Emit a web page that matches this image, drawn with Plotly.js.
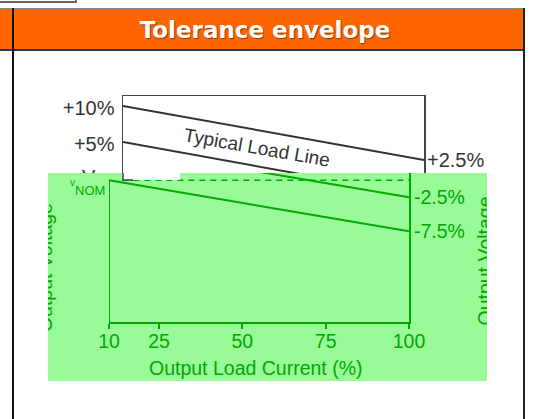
<!DOCTYPE html>
<html><head><meta charset="utf-8">
<script src="https://cdn.plot.ly/plotly-3.0.1.min.js"></script>
<style>
html,body{margin:0;padding:0;background:#fff;width:534px;height:419px;overflow:hidden;position:relative;}
#topbox{position:absolute;left:-2px;top:-10px;width:77px;height:11px;border-right:2px solid #666;border-bottom:2px solid #666;}
#hdr{position:absolute;left:0;top:8px;width:525px;height:43px;box-sizing:border-box;background:#FF6600;border-top:1px solid #8a8a8a;border-bottom:2px solid #333;}
#hdrtext{position:absolute;left:9px;width:512px;top:9px;height:43px;font:bold 23px "DejaVu Sans",Verdana,sans-serif;line-height:43px;text-align:center;color:#fff;text-shadow:1px 1px 1px rgba(0,0,0,0.45);white-space:nowrap;}
#vl{position:absolute;left:12px;top:8px;width:2px;height:411px;background:#111;}
#vr{position:absolute;left:523px;top:8px;width:2px;height:411px;background:#222;}
#white{position:absolute;left:0;top:0;width:534px;height:419px;}
#green{position:absolute;left:48px;top:173px;width:439px;height:208px;overflow:hidden;}
</style></head><body>
<div id="topbox"></div>
<div id="hdr"></div>
<div id="hdrtext">Tolerance envelope</div>
<div id="white"></div>
<div id="green"></div>
<div id="vl"></div>
<div id="vr"></div>
<script>
// ---- data ----
const loadPct = [10, 100];
const upperLimit = [10, 2.5];
const typicalLine = [5, -2.5];
const lowerLimit = [0, -7.5];
const vnomX = [14, 100];
const vnomLevel = [0, 0];
const leftTickVals = [10, 5];
const leftTickText = ['+10%', '+5%'];
const rightTickVals = [2.5];
const rightTickText = ['+2.5%'];
const greenRightVals = [-2.5, -7.5];
const greenRightText = ['-2.5%', '-7.5%'];
const xTickVals = [10, 25, 50, 75, 100];
const xTickText = ['10', '25', '50', '75', '100'];
const xTitle = 'Output Load Current (%)';
const yTitle = 'Output Voltage';
const lineLabel = 'Typical Load Line';
const vLetter = 'V';
const vSmall = 'v';
const vSub = 'NOM';

// ---- white chart ----
const DARK = '#333';
const W_FONT = '"Liberation Sans", Arial, sans-serif';
const wRange = [-20.03, 11.37];
function wLine(y, ax) {
  return {x: loadPct, y: y, yaxis: ax || 'y', mode: 'lines', line: {color: DARK, width: 2}, hoverinfo: 'skip', showlegend: false};
}
Plotly.newPlot('white', [wLine(upperLimit), wLine(typicalLine, 'y2'), wLine(lowerLimit)], {
  width: 534, height: 419, margin: {l: 123, r: 110, t: 96, b: 96, pad: 0},
  paper_bgcolor: 'rgba(0,0,0,0)', plot_bgcolor: '#fff', showlegend: false,
  xaxis: {range: [10, 100], showline: true, mirror: true, linecolor: '#444', linewidth: 1.5, showgrid: false, zeroline: false, showticklabels: false, ticks: ''},
  yaxis: {range: wRange, showline: true, mirror: true, linecolor: '#444', linewidth: 1.5, showgrid: false, zeroline: false, ticks: '',
    tickvals: leftTickVals, ticktext: leftTickText, tickfont: {family: W_FONT, size: 20, color: DARK}, ticklabelshift: 2, ticklabelstandoff: 3},
  yaxis2: {overlaying: 'y', side: 'right', range: wRange, showline: false, showgrid: false, zeroline: false, ticks: '',
    tickvals: rightTickVals, ticktext: rightTickText, tickfont: {family: W_FONT, size: 20, color: DARK}, ticklabelstandoff: 2},
  annotations: [
    {x: 50, y: 4.2, xref: 'x', yref: 'y', xanchor: 'center', yanchor: 'middle', text: lineLabel, showarrow: false, textangle: 10,
      font: {family: W_FONT, size: 19, color: DARK}},
    {x: -0.113, y: 0.1, xref: 'paper', yref: 'y', xanchor: 'center', yanchor: 'middle', text: vLetter, showarrow: false,
      font: {family: W_FONT, size: 20, color: DARK}}
  ]
}, {staticPlot: true});

// ---- green overlay chart ----
const GREEN = '#00A800';
const GBG = '#98FB98';
const N_FONT = '"Liberation Sans", Arial, sans-serif';
const NS = 19.5;
const gRange = [-20.84, 1.07];
function gLine(x, y, ax, w, dash) {
  return {x: x, y: y, yaxis: ax || 'y', mode: 'lines', line: {color: GREEN, width: w || 2, dash: dash || 'solid'}, hoverinfo: 'skip', showlegend: false};
}
function gNote(x, y, text, size, angle) {
  return {xref: 'paper', yref: 'paper', x: x, y: y, xanchor: 'center', yanchor: 'middle', text: text, showarrow: false,
    textangle: angle || 0, font: {family: N_FONT, size: size, color: GREEN}};
}
Plotly.newPlot('green', [
  gLine(vnomX, vnomLevel, 'y', 1.5, '6px,5px'),
  gLine(loadPct, typicalLine, 'y2'),
  gLine(loadPct, lowerLimit)
], {
  width: 439, height: 208, margin: {l: 61, r: 78, t: 0, b: 59, pad: 0},
  paper_bgcolor: GBG, plot_bgcolor: GBG, showlegend: false,
  xaxis: {range: [10, 100], showline: true, linecolor: GREEN, linewidth: 2, ticks: 'outside', ticklen: 5, tickwidth: 2, tickcolor: GREEN,
    tickvals: xTickVals, ticktext: xTickText, tickfont: {family: N_FONT, size: NS, color: GREEN}, showgrid: false, zeroline: false, ticklabelstandoff: -4},
  yaxis: {range: gRange, showline: false, showgrid: false, zeroline: false, showticklabels: false, ticks: ''},
  yaxis2: {overlaying: 'y', side: 'right', range: gRange, showline: true, linecolor: GREEN, linewidth: 2, showgrid: false, zeroline: false, ticks: '',
    tickvals: greenRightVals, ticktext: greenRightText, tickfont: {family: N_FONT, size: NS, color: GREEN}, ticklabelstandoff: -1},
  shapes: [
    {type: 'line', xref: 'x', yref: 'y', x0: 10, x1: 10, y0: 0, y1: gRange[0], line: {color: GREEN, width: 2}},
    {type: 'rect', xref: 'paper', yref: 'paper', x0: 0.0467, x1: 0.2367, y0: 0.953, y1: 1.01, fillcolor: '#fff', line: {width: 0}, layer: 'above'},
    {type: 'path', xref: 'paper', yref: 'paper', path: 'M 0.0467 1.01 L 0.0467 0.953 L 0.08 0.953', line: {color: '#444', width: 1.5}, layer: 'above'}
  ],
  annotations: [
    gNote(-0.121, 0.936, vSmall, 10),
    gNote(-0.0633, 0.8826, vSub, 13),
    gNote(-0.213, 0.3624, yTitle, NS, -90),
    gNote(1.2517, 0.4094, yTitle, NS, -90),
    gNote(0.49, -0.3114, xTitle, NS)
  ]
}, {staticPlot: true});
</script>
</body></html>
